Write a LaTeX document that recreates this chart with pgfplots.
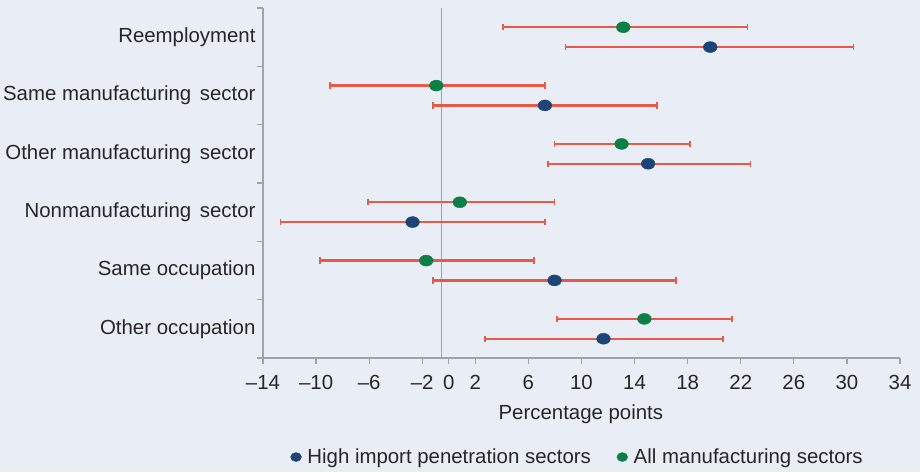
\documentclass[border=0pt]{standalone}
\usepackage{fontspec}
\setmainfont{Liberation Sans}
\usepackage{pgfplots}
\usepackage{pgfplotstable}
\pgfplotsset{compat=1.18}
\definecolor{bg}{HTML}{E9EEF6}
\definecolor{errred}{HTML}{E85A48}
\definecolor{dotblue}{HTML}{1D4477}
\definecolor{dotgreen}{HTML}{0B7F46}
\definecolor{axgray}{HTML}{9FA3AA}
\definecolor{txt}{HTML}{262626}

% All manufacturing sectors (green)
\pgfplotstableread{
pos x lo hi
5.17 13.15 4.1 22.5
4.17 -0.94 -8.95 7.27
3.17 13.02 7.97 18.17
2.17 0.83 -6.09 7.97
1.17 -1.7 -9.7 6.43
0.17 14.74 8.17 21.33
}\allmfg

% High import penetration sectors (blue)
\pgfplotstableread{
pos x lo hi
4.83 19.7 8.8 30.5
3.83 7.24 -1.17 15.67
2.83 15.02 7.47 22.72
1.83 -2.73 -12.68 7.27
0.83 7.97 -1.17 17.14
-0.17 11.66 2.74 20.67
}\highimp

\newcommand{\fs}{\fontsize{20.4}{24}\selectfont}

\begin{document}
\begin{tikzpicture}
\fill[bg] (0,0) rectangle (920pt,472pt);
\path[use as bounding box] (0,0) rectangle (920pt,472pt);
\begin{axis}[
  at={(263pt,114pt)}, anchor=south west,
  width=637pt, height=350pt, scale only axis,
  xmin=-14, xmax=34, ymin=-0.5, ymax=5.5,
  axis x line*=bottom, axis y line*=left,
  axis line style={axgray, line width=1.2pt, -},
  tick align=outside,
  xtick={-14,-10,-6,-2,0,2,6,10,14,18,22,26,30,34},
  xticklabels={–14,–10,–6,–2,0,2,6,10,14,18,22,26,30,34},
  x tick style={axgray, line width=1.2pt},
  major tick length=6pt,
  ytick={-0.5,0.5,...,5.5},
  yticklabels={},
  y tick style={axgray, line width=1.2pt},
  extra y ticks={0,1,2,3,4,5},
  extra y tick labels={Other occupation,Same occupation,Nonmanufacturing\hspace{0.42em}sector,Other manufacturing\hspace{0.42em}sector,Same manufacturing\hspace{0.42em}sector,Reemployment},
  extra y tick style={major tick length=0pt},
  tick label style={font=\fs, text=txt},
  xticklabel style={yshift=-8pt},
  yticklabel style={xshift=-4pt},
  xlabel={Percentage points},
  xlabel style={font=\fs, text=txt, at={(axis description cs:0.499,-0.16)}, anchor=center},
  legend style={draw=none, fill=none, font=\fs, text=txt, at={(0.494,-0.283)}, anchor=center,
    /tikz/every odd column/.append style={column sep=4pt},
    /tikz/every even column/.append style={column sep=24pt}},
  legend columns=2,
  legend cell align=left,
  clip=false,
]
\addlegendimage{only marks, mark=*, mark size=4.5pt, mark options={draw=dotblue, fill=dotblue, xscale=1.2}}
\addlegendentry{High import penetration sectors}
\addlegendimage{only marks, mark=*, mark size=4.5pt, mark options={draw=dotgreen, fill=dotgreen, xscale=1.2}}
\addlegendentry{All manufacturing sectors}

\addplot[forget plot, axgray, line width=1.2pt] coordinates {(-0.56,-0.5) (-0.56,5.5)};

\addplot[forget plot, only marks, mark=none,
  error bars/.cd, x dir=both, x explicit, error mark=|,
  error bar style={line width=2.4pt, errred},
  error mark options={errred, line width=1.6pt, mark size=3.2pt}]
  table[x=x, y=pos, x error plus expr=\thisrow{hi}-\thisrow{x}, x error minus expr=\thisrow{x}-\thisrow{lo}] {\allmfg};
\addplot[forget plot, only marks, mark=none,
  error bars/.cd, x dir=both, x explicit, error mark=|,
  error bar style={line width=2.4pt, errred},
  error mark options={errred, line width=1.6pt, mark size=3.2pt}]
  table[x=x, y=pos, x error plus expr=\thisrow{hi}-\thisrow{x}, x error minus expr=\thisrow{x}-\thisrow{lo}] {\highimp};

\addplot[forget plot, only marks, mark=*, mark size=5.5pt, mark options={draw=dotgreen, fill=dotgreen, xscale=1.25}]
  table[x=x, y=pos] {\allmfg};
\addplot[forget plot, only marks, mark=*, mark size=5.5pt, mark options={draw=dotblue, fill=dotblue, xscale=1.25}]
  table[x=x, y=pos] {\highimp};
\end{axis}
\end{tikzpicture}
\end{document}
